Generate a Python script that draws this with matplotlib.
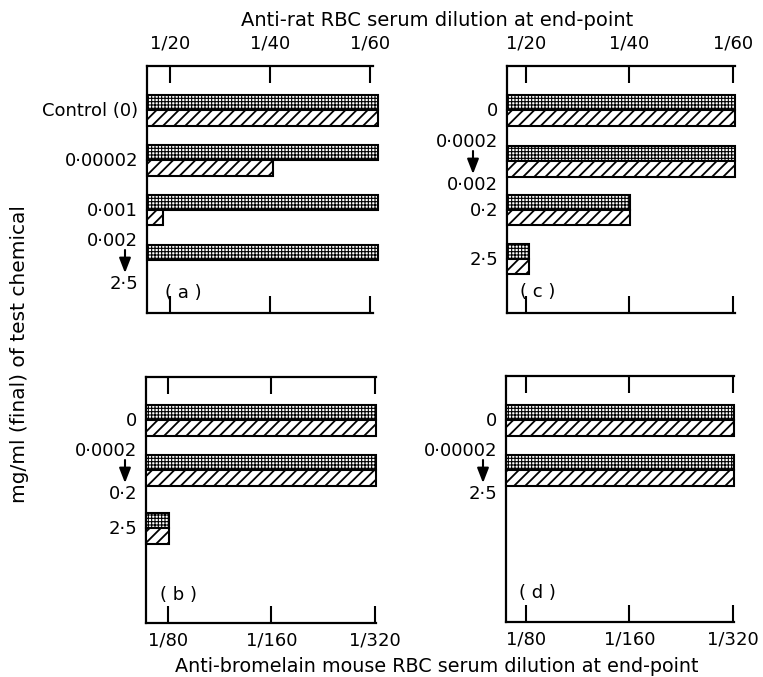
import matplotlib
matplotlib.use("Agg")
import matplotlib.pyplot as plt
from matplotlib.transforms import blended_transform_factory, ScaledTranslation

W, H, DPI = 763, 677, 100

# ---------------- data ----------------
top_ticks = [20, 40, 60]
top_ticklabels = ["1/20", "1/40", "1/60"]
bot_ticks = [80, 160, 320]
bot_ticklabels = ["1/80", "1/160", "1/320"]

# panel (a): anti-rat RBC serum
a_labels = [["Control (0)"], ["0·00002"], ["0·001"], ["0·002", "2·5"]]
a_stippled = [61.5, 61.5, 61.5, 61.5]
a_hatched = [61.5, 40.6, 18.6, 0]

# panel (c): anti-rat RBC serum
c_labels = [["0"], ["0·0002", "0·002"], ["0·2"], ["2·5"]]
c_stippled = [60.4, 60.4, 40.1, 20.6]
c_hatched = [60.4, 60.4, 40.1, 20.6]

# panel (b): anti-bromelain mouse RBC serum
b_labels = [["0"], ["0·0002", "0·2"], ["2·5"]]
b_stippled = [322, 322, 80.5]
b_hatched = [322, 322, 80.5]

# panel (d): anti-bromelain mouse RBC serum
d_labels = [["0"], ["0·00002", "2·5"]]
d_stippled = [322, 322]
d_hatched = [322, 322]

# ---------------- layout (pixels) ----------------
UNIT = 50.0      # px per category slot
BAR_H = 15.5     # px per bar

panels = [
    dict(tag="( a )", rect=(147, 66, 373, 313), xlim=(15.4, 60.6), log=False,
         labels=a_labels, s=a_stippled, h=a_hatched, pos=[0, 1, 2, 3.0],
         first=44, arrow_dx=-22, tagxy=(36, -20)),
    dict(tag="( c )", rect=(507, 66, 735, 313), xlim=(16.33, 60.39), log=False,
         labels=c_labels, s=c_stippled, h=c_hatched, pos=[0, 1.02, 2.0, 2.98],
         first=44, arrow_dx=-34, tagxy=(31, -21)),
    dict(tag="( b )", rect=(146, 377, 376, 623), xlim=(69.05, 322.2), log=True,
         labels=b_labels, s=b_stippled, h=b_hatched, pos=[0, 1, 2.16],
         first=43, arrow_dx=-21, tagxy=(32, -28)),
    dict(tag="( d )", rect=(506, 376, 734, 622), xlim=(69.98, 322.2), log=True,
         labels=d_labels, s=d_stippled, h=d_hatched, pos=[0, 1],
         first=44, arrow_dx=-23, tagxy=(31, -29)),
]

FONT = "DejaVu Sans"
FS = 13
plt.rcParams["font.family"] = [FONT]

fig = plt.figure(figsize=(W / DPI, H / DPI), dpi=DPI)


def px_trans(ax, dx, dy):
    """blended (axes-x, data-y) transform shifted by dx, dy pixels (dy downwards)."""
    base = blended_transform_factory(ax.transAxes, ax.transData)
    return base + ScaledTranslation(dx / DPI, -dy / DPI, fig.dpi_scale_trans)


def draw_bars(ax, ys, vals, x0, hatch, hlw):
    for y, v in zip(ys, vals):
        if v <= 0:
            continue
        bars = ax.barh(y, v - x0, left=x0, height=BAR_H / UNIT, color="white",
                       edgecolor="black", linewidth=1.5, hatch=hatch,
                       clip_on=False, zorder=3)
        for p in bars:
            if hasattr(p, "set_hatch_linewidth"):
                p.set_hatch_linewidth(hlw)


for P in panels:
    l, t, r, b = P["rect"]
    ax = fig.add_axes([l / W, 1 - b / H, (r - l) / W, (b - t) / H])
    ax.patch.set_alpha(0)
    height_units = (b - t) / UNIT
    y0 = -P["first"] / UNIT
    ax.set_ylim(y0 + height_units, y0)
    if P["log"]:
        ax.set_xscale("log", base=2)
    ax.set_xlim(*P["xlim"])
    x0 = P["xlim"][0]

    pos = P["pos"]
    hh = BAR_H / UNIT
    with plt.rc_context({"hatch.linewidth": 0.8}):
        draw_bars(ax, [p - hh / 2 for p in pos], P["s"], x0, "+++++", 0.8)
    with plt.rc_context({"hatch.linewidth": 1.3}):
        draw_bars(ax, [p + hh / 2 for p in pos], P["h"], x0, "///", 1.3)

    ax.spines["right"].set_visible(False)
    for s in ("left", "top", "bottom"):
        ax.spines[s].set_linewidth(1.6)

    ax.set_yticks([])
    if P["log"]:
        ax.set_xticks(bot_ticks)
        ax.set_xticklabels(bot_ticklabels)
        ax.xaxis.set_minor_locator(matplotlib.ticker.NullLocator())
        ax.tick_params(axis="x", which="both", direction="in", length=12, width=1.5,
                       top=True, bottom=True, labeltop=False, labelbottom=True,
                       labelsize=FS, pad=6)
    else:
        ax.set_xticks(top_ticks)
        ax.set_xticklabels(top_ticklabels)
        ax.tick_params(axis="x", which="both", direction="in", length=12, width=1.5,
                       top=True, bottom=True, labeltop=True, labelbottom=False,
                       labelsize=FS, pad=10)

    # category labels
    for p, lab in zip(pos, P["labels"]):
        if len(lab) == 1:
            ax.annotate(lab[0], xy=(0, p), xycoords=px_trans(ax, -9, 1),
                        ha="right", va="center", fontsize=FS)
        else:
            ax.annotate(lab[0], xy=(0, p), xycoords=px_trans(ax, -9, -19),
                        ha="right", va="center", fontsize=FS)
            ax.annotate(lab[1], xy=(0, p), xycoords=px_trans(ax, -9, 24),
                        ha="right", va="center", fontsize=FS)
            ax.annotate("", xy=(0, p), xycoords=px_trans(ax, P["arrow_dx"], 13),
                        xytext=(0, p), textcoords=px_trans(ax, P["arrow_dx"], -10),
                        arrowprops=dict(arrowstyle="-|>,head_length=0.9,head_width=0.35",
                                        color="black", lw=1.5, shrinkA=0, shrinkB=0))

    tx, ty = P["tagxy"]
    ax.annotate(P["tag"], xy=(0, 0), xycoords="axes fraction",
                xytext=(tx, -ty), textcoords="offset pixels",
                ha="center", va="center", fontsize=FS)

fig.text(437 / W, 1 - 20 / H, "Anti-rat RBC serum dilution at end-point",
         ha="center", va="center", fontsize=14)
fig.text(437 / W, 1 - 667 / H, "Anti-bromelain mouse RBC serum dilution at end-point",
         ha="center", va="center", fontsize=13.8)
fig.text(20 / W, 1 - 354 / H, "mg/ml (final) of test chemical",
         ha="center", va="center", rotation=90, fontsize=14.5)

fig.savefig("out.png", dpi=DPI)
